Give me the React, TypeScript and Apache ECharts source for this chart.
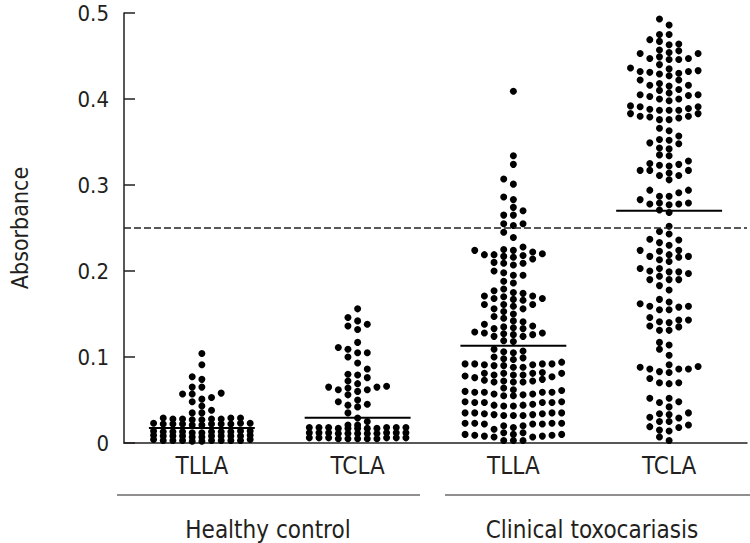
import React, { useEffect, useRef } from "react";
import * as echarts from "echarts";

const groupLabels = ["TLLA", "TCLA", "TLLA", "TCLA"];
const cohortLabels = ["Healthy control", "Clinical toxocariasis"];
const yAxisTitle = "Absorbance";
const means = [0.0174, 0.0295, 0.113, 0.27];
const cutoff = 0.25;

const healthyTLLA = [
  0.104, 0.091, 0.077, 0.074, 0.065, 0.065, 0.058, 0.057, 0.057, 0.053, 0.051, 0.048, 0.043, 0.038, 0.035, 0.035,
  0.029, 0.028, 0.028, 0.029, 0.027, 0.028, 0.029, 0.028, 0.027,
  0.023, 0.022, 0.022, 0.023, 0.021, 0.022, 0.022, 0.023, 0.022, 0.021, 0.022,
  0.014, 0.013, 0.013, 0.014, 0.013, 0.012, 0.013, 0.014, 0.013, 0.013, 0.012,
  0.008, 0.008, 0.007, 0.008, 0.009, 0.008, 0.008, 0.007, 0.008, 0.009, 0.008,
  0.003, 0.003, 0.002, 0.003, 0.004, 0.003, 0.003, 0.002, 0.003, 0.004, 0.003,
];

const healthyTCLA = [
  0.156, 0.146, 0.142, 0.138, 0.136, 0.132, 0.117, 0.111, 0.109, 0.105, 0.105, 0.1, 0.093, 0.086, 0.08, 0.079,
  0.076, 0.072, 0.069, 0.066, 0.065, 0.065, 0.064, 0.062, 0.062, 0.06, 0.056, 0.05, 0.048, 0.045, 0.044, 0.042,
  0.035, 0.029, 0.025, 0.021, 0.021,
  0.018, 0.017, 0.018, 0.017, 0.018, 0.018, 0.017, 0.018, 0.017, 0.018, 0.017,
  0.012, 0.011, 0.012, 0.011, 0.012, 0.012, 0.011, 0.012, 0.011, 0.012, 0.011,
  0.006, 0.005, 0.006, 0.005, 0.006, 0.006, 0.005, 0.006, 0.005, 0.006, 0.005,
];

const clinicalTLLA = [
  0.409, 0.334, 0.324, 0.307, 0.301, 0.286, 0.283, 0.274, 0.27, 0.265, 0.265, 0.255, 0.255, 0.253, 0.245, 0.239, 0.228,
  0.225, 0.224, 0.22, 0.219, 0.217, 0.214, 0.216, 0.218, 0.219, 0.222, 0.224,
  0.21, 0.209, 0.207, 0.209, 0.2, 0.195, 0.198, 0.195, 0.186, 0.188,
  0.179, 0.175, 0.171, 0.171, 0.174, 0.177, 0.17, 0.168, 0.166, 0.167, 0.168,
  0.161, 0.159, 0.161, 0.161, 0.156, 0.156, 0.153, 0.147, 0.145, 0.15,
  0.141, 0.135, 0.133, 0.133, 0.134, 0.136, 0.138, 0.142,
  0.129, 0.128, 0.127, 0.124, 0.124, 0.126, 0.126, 0.128,
  0.119, 0.118, 0.107, 0.105, 0.106, 0.109, 0.099, 0.097, 0.1, 0.098,
  0.092, 0.092, 0.091, 0.09, 0.088, 0.09, 0.091, 0.088, 0.092, 0.092, 0.094,
  0.081, 0.081, 0.079, 0.078, 0.077, 0.076, 0.079, 0.081, 0.079, 0.081, 0.082,
  0.073, 0.074, 0.072, 0.071, 0.071, 0.072, 0.071, 0.064, 0.062,
  0.061, 0.059, 0.059, 0.057, 0.056, 0.055, 0.055, 0.057, 0.059, 0.059, 0.06,
  0.048, 0.047, 0.047, 0.045, 0.044, 0.043, 0.043, 0.044, 0.047, 0.047, 0.048,
  0.035, 0.035, 0.034, 0.033, 0.032, 0.032, 0.032, 0.033, 0.034, 0.035, 0.035,
  0.023, 0.023, 0.022, 0.02, 0.022, 0.018, 0.016, 0.02, 0.023, 0.022, 0.023,
  0.01, 0.009, 0.008, 0.007, 0.012, 0.012, 0.01, 0.008, 0.007, 0.01, 0.009,
  0.003, 0.003, 0.003,
];

const clinicalTCLA = [
  0.493, 0.486, 0.475, 0.475, 0.469, 0.467, 0.464, 0.463,
  0.457, 0.454, 0.453, 0.453, 0.456, 0.449, 0.446, 0.446, 0.447, 0.447, 0.44,
  0.436, 0.433, 0.432, 0.43, 0.427, 0.429, 0.431, 0.432, 0.435,
  0.422, 0.418, 0.416, 0.415, 0.416, 0.422,
  0.411, 0.407, 0.405, 0.403, 0.404, 0.405, 0.41,
  0.4, 0.398, 0.4, 0.391, 0.389, 0.388, 0.391, 0.392,
  0.387, 0.387, 0.383, 0.38, 0.378, 0.376, 0.376, 0.379, 0.38, 0.383, 0.387,
  0.366, 0.363, 0.357, 0.353, 0.352, 0.348, 0.349, 0.342, 0.343, 0.335, 0.334,
  0.328, 0.324, 0.322, 0.317, 0.317, 0.323, 0.325, 0.317,
  0.314, 0.311, 0.306, 0.311, 0.294, 0.291, 0.294, 0.287,
  0.287, 0.283, 0.278, 0.277, 0.279, 0.278, 0.279,
  0.268, 0.271, 0.252,
  0.243, 0.246, 0.236, 0.237, 0.233, 0.23,
  0.223, 0.224, 0.224, 0.217, 0.216, 0.211, 0.213, 0.217, 0.219,
  0.203, 0.2, 0.199, 0.197, 0.199, 0.203, 0.194, 0.19, 0.19, 0.19,
  0.178, 0.183,
  0.167, 0.164, 0.159, 0.158, 0.155, 0.155, 0.159, 0.162,
  0.14, 0.143, 0.143, 0.146, 0.135, 0.131, 0.131, 0.136, 0.141,
  0.117, 0.114, 0.109, 0.102,
  0.091, 0.088, 0.086, 0.083, 0.082, 0.086, 0.086, 0.089,
  0.07, 0.069, 0.07, 0.075,
  0.052, 0.047, 0.042, 0.048, 0.052,
  0.035, 0.033, 0.029, 0.03, 0.034, 0.025, 0.019, 0.015, 0.014, 0.018, 0.021, 0.025,
  0.003, 0.007,
];

const groups = [healthyTLLA, healthyTCLA, clinicalTLLA, clinicalTCLA];

// layout constants (pixels)
const W = 750;
const H = 543;
const GRID_LEFT = 105;
const GRID_TOP = 13;
const GRID_BOTTOM = 100;
const X_MAX = 4;
const Y_MAX = 0.5;
const COL_PX = 10;
const MIN_SEP_PX = 6.5;
const MAX_COL = 5;

const FONT = "'DejaVu Sans Condensed', 'Liberation Sans Narrow', sans-serif";
const INK = "#231f20";

function swarm(values: number[], center: number): number[][] {
  const pxPerX = (W - GRID_LEFT) / X_MAX;
  const pxPerY = (H - GRID_TOP - GRID_BOTTOM) / Y_MAX;
  const colStep = COL_PX / pxPerX;
  const order: number[] = [0];
  for (let k = 1; k <= MAX_COL; k++) order.push(-k, k);
  const cols: Record<number, number[]> = {};
  const sorted = [...values].sort((a, b) => a - b);
  const out: number[][] = [];
  for (const v of sorted) {
    let chosen: number | null = null;
    let bestC = 0;
    let bestD = -1;
    for (const c of order) {
      const arr = cols[c] || [];
      let d = Infinity;
      for (const u of arr) d = Math.min(d, Math.abs(v - u) * pxPerY);
      if (d >= MIN_SEP_PX) {
        chosen = c;
        break;
      }
      if (d > bestD + 1e-9) {
        bestD = d;
        bestC = c;
      }
    }
    const c = chosen === null ? bestC : chosen;
    (cols[c] = cols[c] || []).push(v);
    out.push([center + c * colStep, v]);
  }
  return out;
}

export default function App() {
  const ref = useRef<HTMLDivElement>(null);
  useEffect(() => {
    document.body.style.margin = "0";
    if (!ref.current) return;
    const chart = echarts.init(ref.current, null, { renderer: "svg" });
    const halfLine = 0.34;
    const series: any[] = [];
    groups.forEach((vals, i) => {
      series.push({
        type: "scatter",
        data: swarm(vals, i + 0.5),
        symbol: "circle",
        symbolSize: 7,
        itemStyle: { color: "#000", opacity: 1 },
        silent: true,
        z: 3,
        ...(i === 0
          ? {
              markLine: {
                silent: true,
                symbol: "none",
                label: { show: false },
                lineStyle: { type: [7, 3], color: "#222", width: 1.6 },
                data: [{ yAxis: cutoff }],
              },
            }
          : {}),
      });
      series.push({
        type: "line",
        data: [
          [i + 0.5 - halfLine, means[i]],
          [i + 0.5 + halfLine, means[i]],
        ],
        symbol: "none",
        lineStyle: { color: "#000", width: 2 },
        silent: true,
        z: 4,
      });
    });
    chart.setOption({
      animation: false,
      grid: { left: GRID_LEFT, right: 0, top: GRID_TOP, bottom: GRID_BOTTOM, containLabel: false },
      xAxis: {
        type: "value",
        min: 0,
        max: X_MAX,
        interval: 0.5,
        axisLine: { show: true, lineStyle: { color: INK, width: 1.5 } },
        axisTick: { show: false },
        splitLine: { show: false },
        axisLabel: {
          margin: 11,
          fontSize: 24,
          fontFamily: FONT,
          color: INK,
          formatter: (v: number) => {
            const i = Math.round(v - 0.5);
            return Math.abs(v - i - 0.5) < 1e-6 && groupLabels[i] ? groupLabels[i] : "";
          },
        },
      },
      yAxis: {
        type: "value",
        min: 0,
        max: Y_MAX,
        interval: 0.1,
        name: yAxisTitle,
        nameLocation: "middle",
        nameRotate: 90,
        nameGap: 93,
        nameTextStyle: { fontSize: 23, fontFamily: FONT, color: INK },
        axisLine: { show: true, lineStyle: { color: INK, width: 1.5 } },
        axisTick: { show: true, inside: true, length: 11, lineStyle: { color: INK, width: 1.5 } },
        splitLine: { show: false },
        axisLabel: {
          margin: 15,
          fontSize: 22,
          fontFamily: FONT,
          color: INK,
          formatter: (v: number) => (v === 0 ? "0" : v.toFixed(1)),
        },
      },
      graphic: [
        { type: "line", shape: { x1: 117, y1: 495, x2: 420, y2: 495 }, style: { stroke: INK, lineWidth: 1 } },
        { type: "line", shape: { x1: 445, y1: 495, x2: 750, y2: 495 }, style: { stroke: INK, lineWidth: 1 } },
        {
          type: "text",
          x: 268,
          y: 530,
          style: { text: cohortLabels[0], fontSize: 24, fontFamily: FONT, fill: INK, align: "center", verticalAlign: "middle" },
        },
        {
          type: "text",
          x: 592,
          y: 530,
          style: { text: cohortLabels[1], fontSize: 24, fontFamily: FONT, fill: INK, align: "center", verticalAlign: "middle" },
        },
      ],
      series,
    });
    return () => chart.dispose();
  }, []);
  return <div ref={ref} style={{ width: W, height: H }} />;
}
